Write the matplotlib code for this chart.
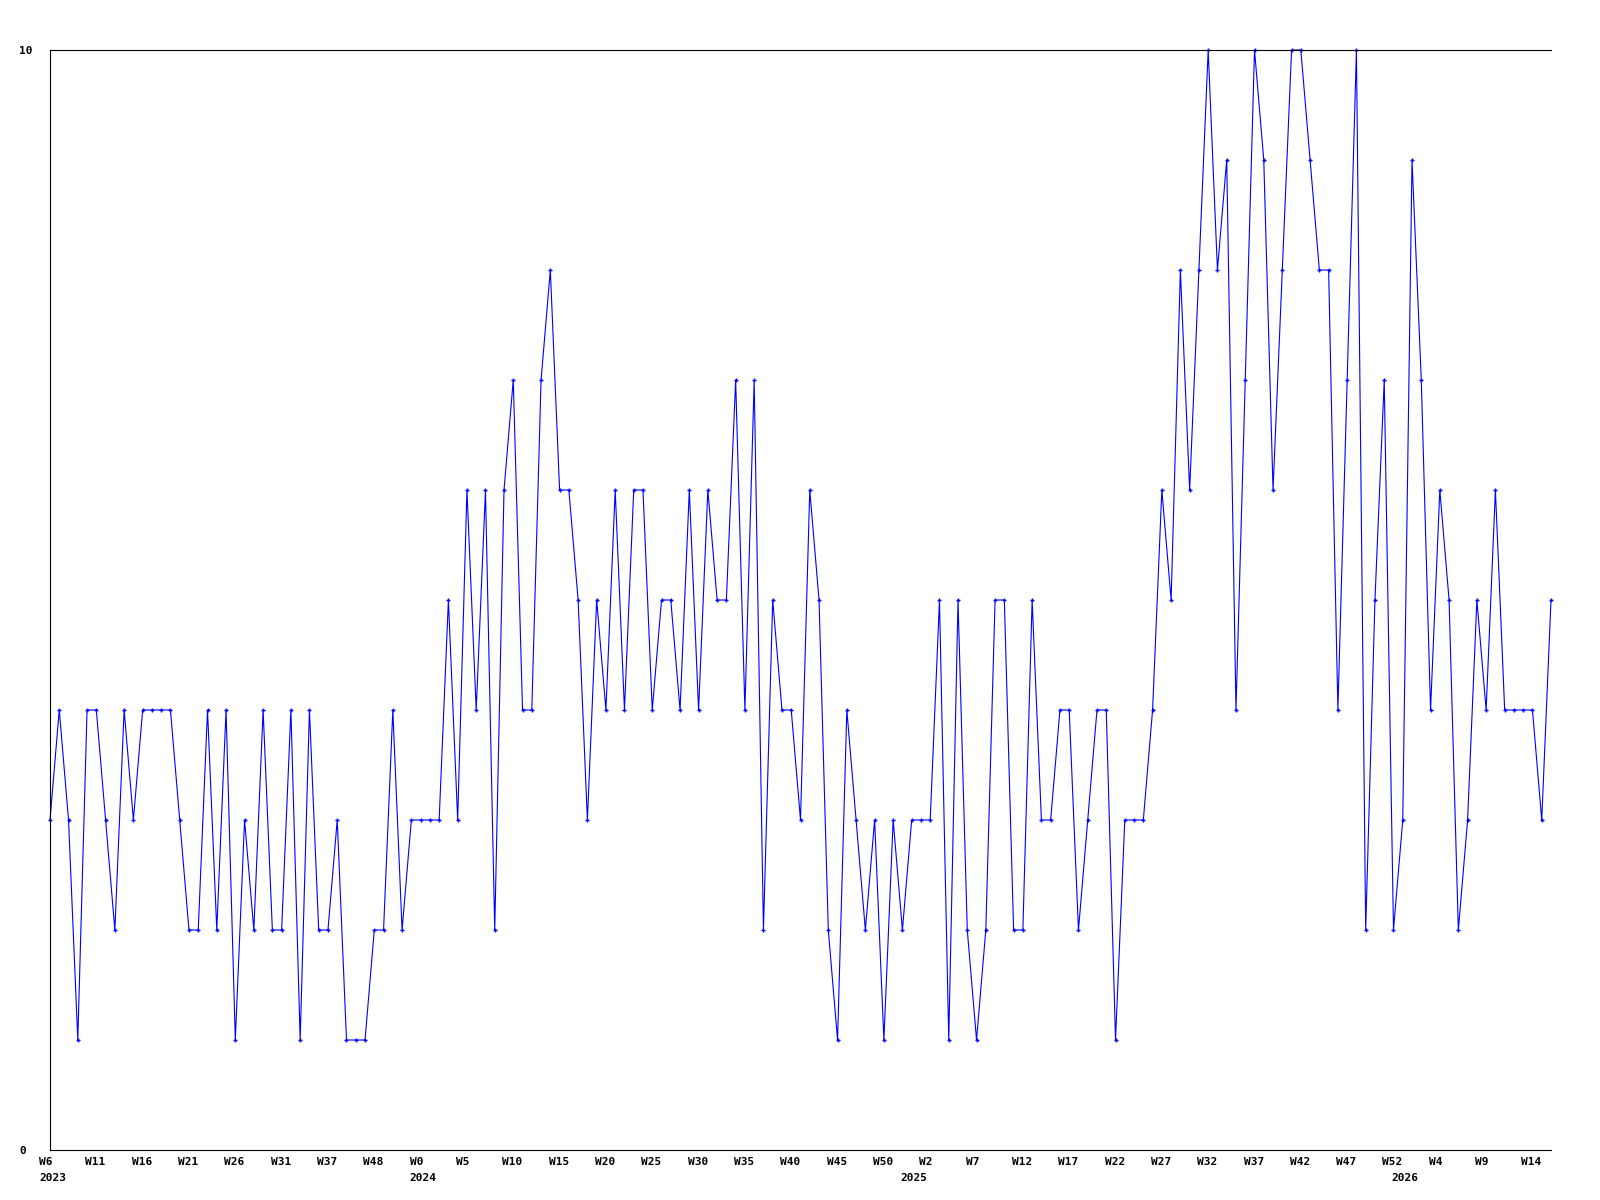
import numpy as np
import matplotlib
matplotlib.use("Agg")
import matplotlib.pyplot as plt
from matplotlib import transforms

# weekly values (163 points)
values = [
    3, 4, 3, 1, 4, 4, 3, 2, 4, 3,
    4, 4, 4, 4, 3, 2, 2, 4, 2, 4,
    1, 3, 2, 4, 2, 2, 4, 1, 4, 2,
    2, 3, 1, 1, 1, 2, 2, 4, 2, 3,
    3, 3, 3, 5, 3, 6, 4, 6, 2, 6,
    7, 4, 4, 7, 8, 6, 6, 5, 3, 5,
    4, 6, 4, 6, 6, 4, 5, 5, 4, 6,
    4, 6, 5, 5, 7, 4, 7, 2, 5, 4,
    4, 3, 6, 5, 2, 1, 4, 3, 2, 3,
    1, 3, 2, 3, 3, 3, 5, 1, 5, 2,
    1, 2, 5, 5, 2, 2, 5, 3, 3, 4,
    4, 2, 3, 4, 4, 1, 3, 3, 3, 4,
    6, 5, 8, 6, 8, 10, 8, 9, 4, 7,
    10, 9, 6, 8, 10, 10, 9, 8, 8, 4,
    7, 10, 2, 5, 7, 2, 3, 9, 7, 4,
    6, 5, 2, 3, 5, 4, 6, 4, 4, 4,
    4, 3, 5,
]

# week labels, one every 5 points
week_ticks = list(range(0, 161, 5))
week_labels = ["W6", "W11", "W16", "W21", "W26", "W31", "W37", "W48", "W0",
               "W5", "W10", "W15", "W20", "W25", "W30", "W35", "W40", "W45",
               "W50", "W2", "W7", "W12", "W17", "W22", "W27", "W32", "W37",
               "W42", "W47", "W52", "W4", "W9", "W14"]

# year labels and the point where each one starts
year_pos = [0, 40, 93, 146]
year_labels = ["2023", "2024", "2025", "2026"]

ymin, ymax = 0, 10

font = dict(family="DejaVu Sans Mono", weight="bold", size=8, color="black")

fig = plt.figure(figsize=(16, 12), dpi=100)
ax = fig.add_axes([50 / 1600, 1 - 1150 / 1200, 1501 / 1600, 1100 / 1200])

x = np.arange(len(values))
ax.plot(x, values, color="#0000ff", lw=0.8, marker="+", ms=3.5, mew=1.0,
        clip_on=False)

ax.set_xlim(0, len(values) - 1)
ax.set_ylim(ymin, ymax)

for side in ["left", "bottom", "top"]:
    ax.spines[side].set_linewidth(0.8)
    ax.spines[side].set_color("black")
ax.spines["right"].set_visible(False)

# y labels: just the min and max, left aligned at the page edge
ax.set_yticks([ymin, ymax])
ax.set_yticklabels([str(ymin), str(ymax)], ha="left", **font)
ax.tick_params(axis="y", length=0, pad=22)

# x labels start a little left of their point
ax.set_xticks(week_ticks)
ax.set_xticklabels(week_labels, ha="left", **font)
ax.tick_params(axis="x", length=0, pad=5)
shift = transforms.ScaledTranslation(-11 / 100, 0, fig.dpi_scale_trans)
for lab in ax.get_xticklabels():
    lab.set_transform(lab.get_transform() + shift)

trans = transforms.blended_transform_factory(ax.transData, ax.transAxes)
for pos, lab in zip(year_pos, year_labels):
    ax.text(pos, 0, lab, transform=trans + shift +
            transforms.ScaledTranslation(0, -23 / 100, fig.dpi_scale_trans),
            ha="left", va="top", **font)

fig.savefig("out.png", dpi=100)
